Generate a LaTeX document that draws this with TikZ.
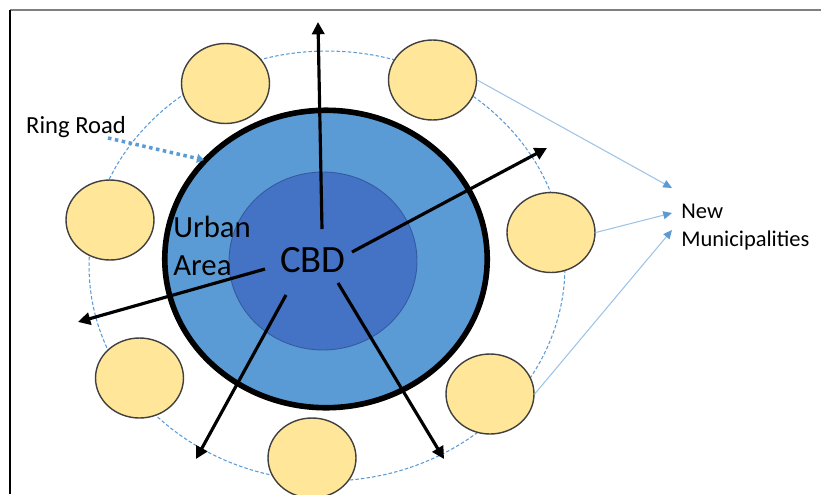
\documentclass[tikz,border=0pt]{standalone}
\usepackage{fontspec}
\setmainfont{Carlito}
\usepackage{tikz}
\usetikzlibrary{positioning, shapes.geometric, arrows.meta, calc}
\definecolor{RoadBlue}{RGB}{91, 155, 213}
\definecolor{UrbanBlue}{RGB}{91, 155, 213}
\definecolor{CoreBlue}{RGB}{68, 114, 196}
\definecolor{CoreEdge}{RGB}{52, 90, 160}
\definecolor{TownYellow}{RGB}{255, 230, 153}
\definecolor{TownEdge}{RGB}{64, 64, 64}
\definecolor{LinkBlue}{RGB}{157, 195, 230}

\begin{document}
\begin{tikzpicture}[
    x=0.02cm, y=-0.02cm,
    ringroad/.style={ellipse, draw=RoadBlue, line width=0.6pt, dash pattern=on 2pt off 1.2pt, minimum width=9.52cm, minimum height=8.6cm, inner sep=0},
    urban/.style={ellipse, draw=black, line width=3.2pt, fill=UrbanBlue, minimum width=6.45cm, minimum height=5.95cm, inner sep=0},
    core/.style={ellipse, draw=CoreEdge, line width=0.5pt, fill=CoreBlue, minimum width=3.76cm, minimum height=3.56cm, inner sep=0},
    muni/.style={ellipse, draw=TownEdge, line width=0.8pt, fill=TownYellow, minimum width=1.76cm, minimum height=1.6cm, inner sep=0},
    spoke/.style={-{Triangle[length=7pt, width=7pt]}, line width=1.8pt, black},
    link/.style={-{Triangle[length=5pt, width=4.5pt, color=RoadBlue]}, draw=LinkBlue, line width=0.6pt},
    pointer/.style={-{Triangle[length=4pt, width=5pt]}, draw=RoadBlue, line width=2pt, dash pattern=on 2pt off 2pt}
  ]
    \useasboundingbox (0,0) rectangle (821,494);

    % Frame
    \draw[gray, line width=0.8pt] (10,10) -- (821,10);
    \draw[black, line width=0.8pt] (10,10) -- (10,494);

    % Ring road
    \node[ringroad] (ring) at (327,266) {};

    % Urban area and CBD
    \node[urban] (urb) at (326,259) {};
    \node[core] (core) at (323,261) {};

    % New municipalities
    \foreach \i/\x/\y in {1/225.5/83.5, 2/432.5/80, 3/110/220, 4/551/232.5, 5/139.5/378, 6/312/458, 7/490/394} {
      \node[muni] (m\i) at (\x,\y) {};
    }

    % Labels
    \node[font=\fontsize{22}{26}\selectfont, inner sep=0] (cbd) at (313,260) {CBD};
    \node[font=\fontsize{17.5}{22}\selectfont, align=left, anchor=west, inner sep=0] (area) at (173,246) {Urban\\Area};
    \node[font=\fontsize{14}{17}\selectfont, inner sep=0] (rr) at (76,127) {Ring Road};
    \node[font=\fontsize{12.8}{16}\selectfont, align=left, anchor=west, inner sep=0] (nm) at (681,227) {New\\Municipalities};

    % Spokes out of the CBD
    \foreach \i/\sx/\sy/\ex/\ey in {1/322/229/318/22, 2/352/252/547/148, 3/265/269/78/322, 4/286/295/196/459, 5/338/283/444/459} {
      \coordinate (s\i) at (\sx,\sy);
      \coordinate (e\i) at (\ex,\ey);
      \draw[spoke] (s\i) -- (e\i);
    }

    % Pointers
    \coordinate (rrs) at (108,138);
    \coordinate (rre) at (204,160);
    \draw[pointer] (rrs) -- (rre);

    \coordinate (t1) at (672,188);
    \coordinate (t2) at (672,213);
    \coordinate (t3) at (672,230);
    \draw[link] (m2.east) -- (t1);
    \draw[link] (m4.east) -- (t2);
    \draw[link] (m7.east) -- (t3);
  \end{tikzpicture}
\end{document}
